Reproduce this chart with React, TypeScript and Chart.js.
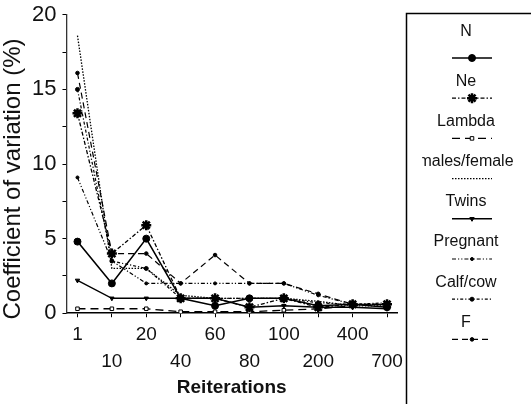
import React, { useEffect, useRef } from "react";
import { Chart, registerables } from "chart.js";
import { drawPoint } from "chart.js/helpers";

Chart.register(...registerables);

const categories = ["1", "10", "20", "40", "60", "80", "100", "200", "400", "700"];
const yTickValues = [0, 5, 10, 15, 20];

const seriesNames = ["N", "Ne", "Lambda", "males/female", "Twins", "Pregnant", "Calf/cow", "F"];
const nValues = [4.8, 2.0, 5.0, 1.0, 0.5, 1.0, 1.0, 0.5, 0.6, 0.4];
const neValues = [13.4, 4.0, 5.9, 1.0, 1.0, 0.4, 1.0, 0.4, 0.6, 0.6];
const lambdaValues = [0.3, 0.3, 0.3, 0.1, 0.1, 0.1, 0.2, 0.3, 0.5, 0.6];
const malesFemaleValues = [18.6, 3.0, 3.0, 1.2, 1.0, 1.0, 1.0, 0.8, 0.5, 0.5];
const twinsValues = [2.2, 1.0, 1.0, 1.0, 1.0, 0.4, 0.5, 0.4, 0.4, 0.3];
const pregnantValues = [9.1, 3.5, 2.0, 2.0, 2.0, 2.0, 2.0, 1.2, 0.6, 0.6];
const calfCowValues = [15.0, 3.5, 3.0, 1.0, 1.0, 1.0, 1.0, 0.7, 0.6, 0.7];
const fValues = [16.1, 4.0, 4.0, 2.0, 3.9, 2.0, 2.0, 1.3, 0.6, 0.6];

const allValues = [nValues, neValues, lambdaValues, malesFemaleValues, twinsValues, pregnantValues, calfCowValues, fValues];

const styles = [
  { dash: [], width: 1.6, pointStyle: "circle", radius: 3.5, fill: "#000", rotation: 0, bw: 1 },
  { dash: [4, 2, 1.5, 2], width: 1.3, pointStyle: "star", radius: 5, fill: "#000", rotation: 0, bw: 2.5 },
  { dash: [8, 5], width: 1.3, pointStyle: "rect", radius: 2.5, fill: "#fff", rotation: 0, bw: 1 },
  { dash: [1.5, 1.5], width: 1.3, pointStyle: "circle", radius: 0, fill: "#000", rotation: 0, bw: 1 },
  { dash: [], width: 1.4, pointStyle: "triangle", radius: 2.5, fill: "#000", rotation: 180, bw: 1 },
  { dash: [4, 2, 1.2, 2, 1.2, 2], width: 1.2, pointStyle: "circle", radius: 1.5, fill: "#000", rotation: 0, bw: 1 },
  { dash: [3, 2, 1.2, 2], width: 1.2, pointStyle: "circle", radius: 2, fill: "#000", rotation: 0, bw: 1 },
  { dash: [6, 4], width: 1.2, pointStyle: "circle", radius: 1.8, fill: "#000", rotation: 0, bw: 1 },
];

const FONT = "'Liberation Sans', Arial, Helvetica, sans-serif";

const overlayPlugin = {
  id: "overlay",
  afterDraw(chart: any) {
    const ctx = chart.ctx;
    ctx.save();
    ctx.fillStyle = "#111";
    ctx.font = `24px ${FONT}`;
    ctx.textAlign = "center";
    ctx.textBaseline = "middle";
    ctx.translate(13, 179);
    ctx.rotate(-Math.PI / 2);
    ctx.fillText("Coefficient of variation (%)", 0, 0);
    ctx.restore();

    ctx.save();
    ctx.strokeStyle = "#000";
    ctx.lineWidth = 1.5;
    ctx.strokeRect(406.5, 13.5, 300, 500);
    chart.data.datasets.forEach((ds: any, i: number) => {
      const ly = 58 + i * 40.2;
      const ty = i === 0 ? 32 : ly - 17;
      ctx.save();
      ctx.beginPath();
      ctx.rect(422, 14, 120, 400);
      ctx.clip();
      ctx.fillStyle = "#111";
      ctx.font = `16px ${FONT}`;
      ctx.textAlign = "center";
      ctx.textBaseline = "middle";
      ctx.fillText(ds.label, 466, ty);
      ctx.restore();
      const st = styles[i];
      ctx.save();
      ctx.strokeStyle = "#000";
      ctx.lineWidth = st.width;
      ctx.setLineDash(st.dash);
      ctx.beginPath();
      ctx.moveTo(452, ly);
      ctx.lineTo(492, ly);
      ctx.stroke();
      ctx.setLineDash([]);
      if (st.radius > 0) {
        ctx.fillStyle = st.fill;
        ctx.strokeStyle = "#000";
        ctx.lineWidth = st.bw;
        drawPoint(ctx, { pointStyle: st.pointStyle, radius: st.radius, rotation: st.rotation, borderWidth: st.bw }, 472, ly);
      }
      ctx.restore();
    });
    ctx.restore();
  },
};

export default function App() {
  const ref = useRef<HTMLCanvasElement | null>(null);
  useEffect(() => {
    if (!ref.current) return;
    const datasets = allValues.map((vals, i) => {
      const st = styles[i];
      return {
        label: seriesNames[i],
        data: vals.map((v, j) => ({ x: j, y: v })),
        borderColor: "#000",
        backgroundColor: st.fill,
        borderWidth: st.width,
        borderDash: st.dash,
        pointStyle: st.pointStyle,
        pointRadius: st.radius,
        pointRotation: st.rotation,
        pointBackgroundColor: st.fill,
        pointBorderColor: "#000",
        pointBorderWidth: st.bw,
        tension: 0,
        fill: false,
      };
    });
    const chart = new Chart(ref.current, {
      type: "line",
      data: { datasets },
      options: {
        responsive: false,
        animation: false,
        layout: { padding: { left: 26, right: 134, top: 0, bottom: 5 } },
        plugins: { legend: { display: false }, tooltip: { enabled: false } },
        scales: {
          x: {
            type: "linear",
            min: -0.32,
            max: 9.29,
            grid: { display: true, drawOnChartArea: false, color: "#000", tickLength: 4 },
            border: { display: true, color: "#000", width: 1.6 },
            afterBuildTicks: (axis: any) => {
              axis.ticks = categories.map((_, i) => ({ value: i }));
            },
            ticks: {
              stepSize: 1,
              autoSkip: false,
              maxRotation: 0,
              minRotation: 0,
              padding: 4,
              color: "#111",
              font: { family: FONT, size: 19, lineHeight: 1.42 },
              callback: (value: any) => {
                const lbl = categories[value as number];
                return (value as number) % 2 === 0 ? [lbl, ""] : ["", lbl];
              },
            },
            title: {
              display: true,
              text: "Reiterations",
              color: "#111",
              font: { family: FONT, size: 19, weight: "bold" },
              padding: { top: -3, bottom: 0 },
            },
          },
          y: {
            min: 0,
            max: 20,
            grid: { display: true, drawOnChartArea: false, color: "#000", tickLength: 4 },
            border: { display: true, color: "#333", width: 1.3 },
            ticks: {
              stepSize: 2.5,
              autoSkip: false,
              padding: 6,
              color: "#111",
              font: { family: FONT, size: 22, lineHeight: 0.8 },
              callback: (v: any) => (yTickValues.includes(v as number) ? String(v) : ""),
            },
          },
        },
      },
      plugins: [overlayPlugin],
    });
    return () => chart.destroy();
  }, []);
  return (
    <div style={{ position: "absolute", left: 0, top: 0, width: 531, height: 404, background: "#fff" }}>
      <canvas ref={ref} width={531} height={404} style={{ display: "block" }} />
    </div>
  );
}
